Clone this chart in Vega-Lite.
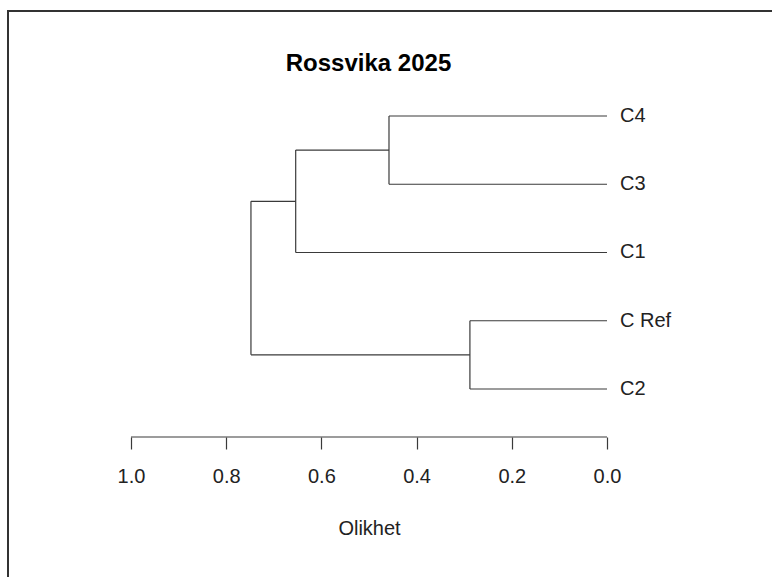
{
  "$schema": "https://vega.github.io/schema/vega-lite/v6.json",
  "autosize": "none",
  "padding": {"left": 8, "top": 11, "right": 0, "bottom": 0},
  "width": 780,
  "height": 590,
  "background": "white",
  "title": {
    "text": "Rossvika 2025",
    "font": "Liberation Sans",
    "fontSize": 24,
    "fontWeight": "bold",
    "color": "#000000",
    "anchor": "middle",
    "baseline": "middle",
    "dx": -29.5,
    "offset": -77
  },
  "config": {
    "view": {"stroke": "#333333", "strokeWidth": 2},
    "font": "Liberation Sans"
  },
  "datasets": {
    "segments": [
      {"part": "C4", "x": 0.0, "x2": 0.458, "y": 1, "y2": 1},
      {"part": "C3", "x": 0.0, "x2": 0.458, "y": 2, "y2": 2},
      {"part": "C1", "x": 0.0, "x2": 0.654, "y": 3, "y2": 3},
      {"part": "C Ref", "x": 0.0, "x2": 0.288, "y": 4, "y2": 4},
      {"part": "C2", "x": 0.0, "x2": 0.288, "y": 5, "y2": 5},
      {"part": "C4+C3", "x": 0.458, "x2": 0.458, "y": 1, "y2": 2},
      {"part": "C4+C3", "x": 0.458, "x2": 0.654, "y": 1.5, "y2": 1.5},
      {"part": "C4+C3+C1", "x": 0.654, "x2": 0.654, "y": 1.5, "y2": 3},
      {"part": "C4+C3+C1", "x": 0.654, "x2": 0.748, "y": 2.25, "y2": 2.25},
      {"part": "C Ref+C2", "x": 0.288, "x2": 0.288, "y": 4, "y2": 5},
      {"part": "C Ref+C2", "x": 0.288, "x2": 0.748, "y": 4.5, "y2": 4.5},
      {"part": "root", "x": 0.748, "x2": 0.748, "y": 2.25, "y2": 4.5}
    ],
    "leaves": [
      {"label": "C4", "order": 1},
      {"label": "C3", "order": 2},
      {"label": "C1", "order": 3},
      {"label": "C Ref", "order": 4},
      {"label": "C2", "order": 5}
    ]
  },
  "layer": [
    {
      "data": {"name": "segments"},
      "mark": {"type": "rule", "color": "#3a3a3a", "strokeWidth": 1.2},
      "encoding": {
        "x": {
          "field": "x",
          "type": "quantitative",
          "scale": {"domain": [-0.38025, 1.2584], "reverse": true, "nice": false, "zero": false},
          "axis": {
            "values": [0, 0.2, 0.4, 0.6, 0.8, 1.0],
            "format": ".1f",
            "domain": false,
            "grid": false,
            "offset": -164,
            "tickSize": 12,
            "tickColor": "#3a3a3a",
            "tickWidth": 1.2,
            "labelPadding": 17,
            "labelFontSize": 20,
            "labelColor": "#222222",
            "labelFont": "Liberation Sans",
            "title": "Olikhet",
            "titleFont": "Liberation Sans",
            "titleFontSize": 20,
            "titleFontWeight": "normal",
            "titleColor": "#222222",
            "titleX": 361,
            "titlePadding": 32
          }
        },
        "x2": {"field": "x2"},
        "y": {
          "field": "y",
          "type": "quantitative",
          "scale": {"domain": [-0.53846, 8.10623], "reverse": true, "nice": false, "zero": false},
          "axis": null
        },
        "y2": {"field": "y2"}
      }
    },
    {
      "data": {"values": [{"from": 1.0, "to": 0.0}]},
      "mark": {"type": "rule", "color": "#3a3a3a", "strokeWidth": 1.2},
      "encoding": {
        "x": {"field": "from", "type": "quantitative"},
        "x2": {"field": "to"},
        "y": {"datum": 5.7033, "type": "quantitative"}
      }
    },
    {
      "data": {"name": "leaves"},
      "mark": {"type": "text", "align": "left", "baseline": "middle", "dx": 13, "fontSize": 20, "font": "Liberation Sans", "color": "#222222"},
      "encoding": {
        "x": {"datum": 0.0, "type": "quantitative"},
        "y": {"field": "order", "type": "quantitative"},
        "text": {"field": "label"}
      }
    }
  ]
}
